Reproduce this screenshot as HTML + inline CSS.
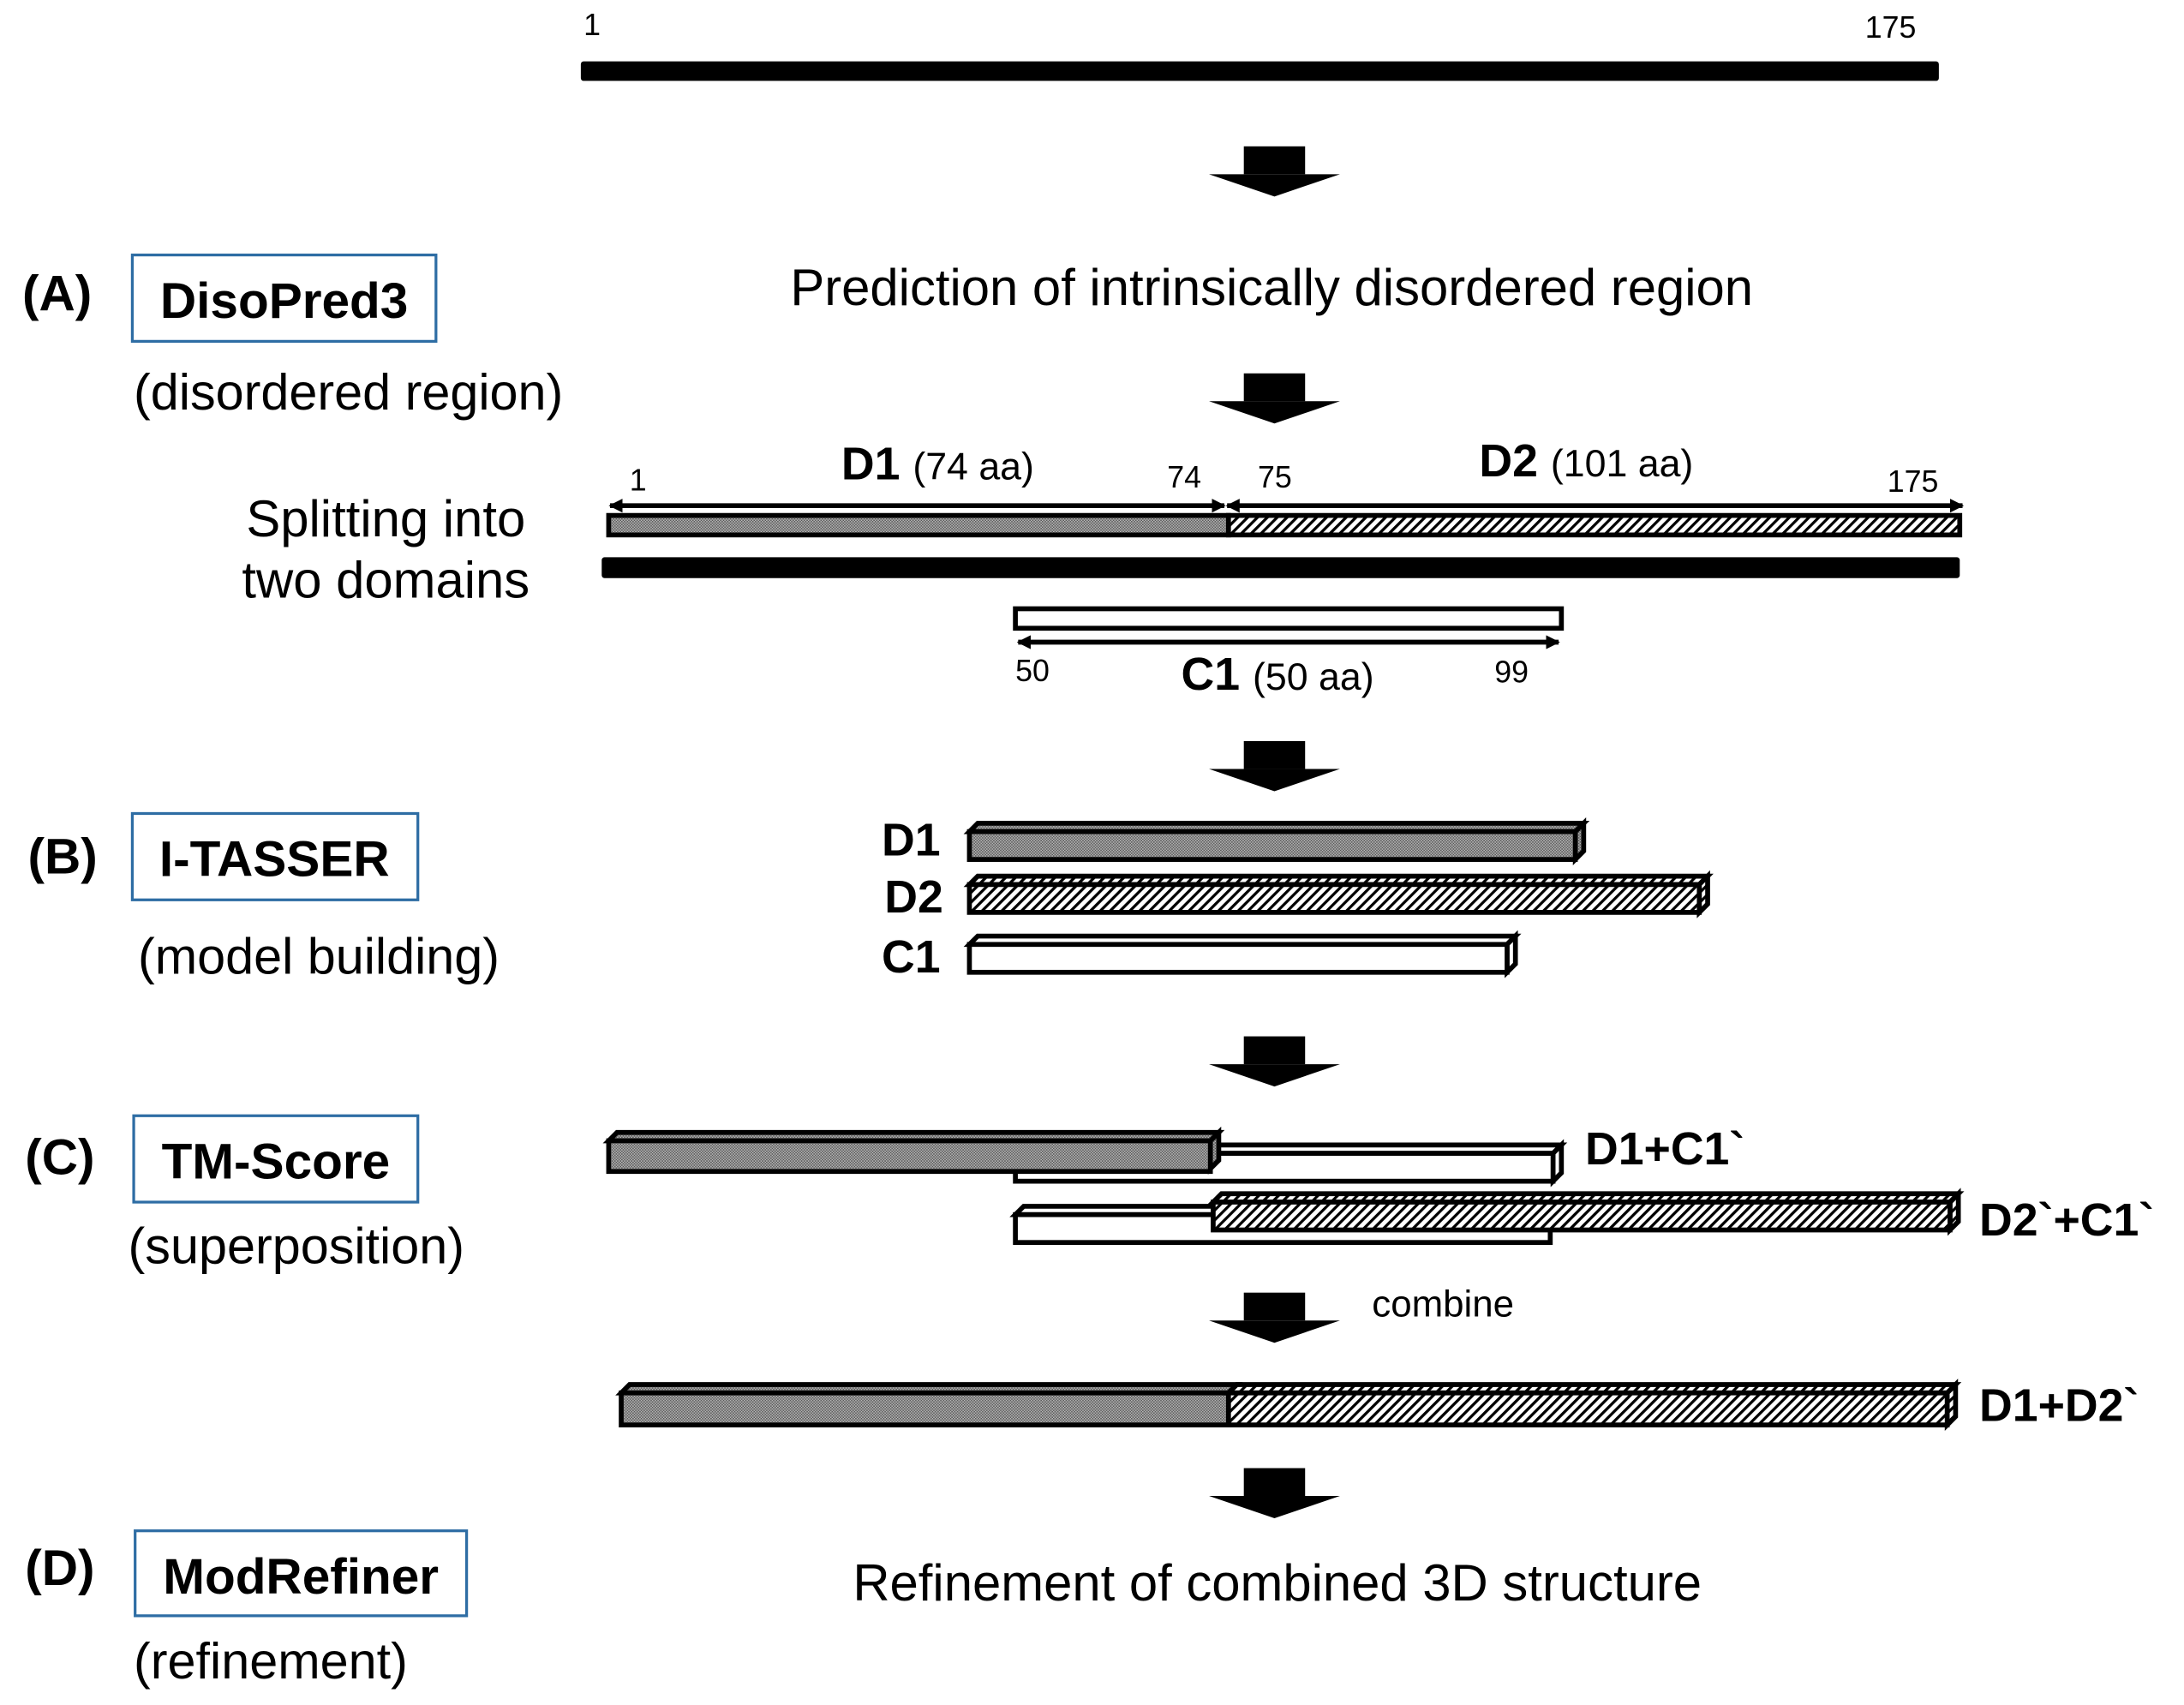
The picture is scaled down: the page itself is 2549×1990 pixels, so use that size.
<!DOCTYPE html>
<html><head><meta charset="utf-8"><style>html,body{margin:0;padding:0;background:#fff}svg{display:block}</style></head>
<body>
<svg width="2549" height="1990" viewBox="0 0 1568 1224" xmlns="http://www.w3.org/2000/svg" font-family="Liberation Sans, Arial, sans-serif">
<defs>
<pattern id="dots" width="2" height="2" patternUnits="userSpaceOnUse"><rect width="2" height="2" fill="#bbb"/><rect width="1" height="1" fill="#555"/><rect x="1" y="1" width="1" height="1" fill="#555"/></pattern>
<pattern id="hatch" width="5" height="5" patternUnits="userSpaceOnUse" patternTransform="rotate(45)"><rect width="5" height="5" fill="#fff"/><rect width="2" height="5" fill="#000"/></pattern>
<marker id="ah" markerWidth="10" markerHeight="10" refX="9" refY="5" orient="auto-start-reverse" markerUnits="userSpaceOnUse"><path d="M0,0 L10,5 L0,10z" fill="#000"/></marker>
<g id="arr"><rect x="-22" y="0" width="44" height="20" fill="#000"/><path d="M-47,20 L47,20 L0,36z" fill="#000"/></g>
</defs>
<g fill="#000">
<text x="419" y="25" font-size="22">1</text>
<text x="1339" y="27" font-size="22">175</text>
</g>
<rect x="417" y="44" width="975" height="14" fill="#000" rx="2"/>
<use href="#arr" x="915" y="105"/>
<use href="#arr" x="915" y="268"/>
<use href="#arr" x="915" y="532"/>
<use href="#arr" x="915" y="744"/>
<use href="#arr" x="915" y="928"/>
<use href="#arr" x="915" y="1054"/>

<text x="913" y="219" font-size="36.8" text-anchor="middle">Prediction of intrinsically disordered region</text>
<text x="16" y="223" font-size="36" font-weight="bold">(A)</text>
<rect x="95" y="183" width="218" height="62" fill="none" stroke="#2e6da4" stroke-width="2"/>
<text x="204" y="228" font-size="36" font-weight="bold" text-anchor="middle">DisoPred3</text>
<text x="96" y="294" font-size="36.5">(disordered region)</text>

<text x="604" y="344" font-size="33" font-weight="bold">D1 <tspan font-size="27.5" font-weight="normal">(74 aa)</tspan></text>
<text x="452" y="352" font-size="22">1</text>
<text x="838" y="350" font-size="22">74</text>
<text x="903" y="350" font-size="22">75</text>
<text x="1062" y="342" font-size="33" font-weight="bold">D2 <tspan font-size="27.5" font-weight="normal">(101 aa)</tspan></text>
<text x="1355" y="353" font-size="22">175</text>
<line x1="438" y1="363" x2="879" y2="363" stroke="#000" stroke-width="3.5" marker-start="url(#ah)" marker-end="url(#ah)"/>
<line x1="881" y1="363" x2="1409" y2="363" stroke="#000" stroke-width="3.5" marker-start="url(#ah)" marker-end="url(#ah)"/>
<rect x="437" y="370" width="445" height="14" fill="url(#dots)" stroke="#000" stroke-width="3.5"/>
<rect x="882" y="370" width="525" height="14" fill="url(#hatch)" stroke="#000" stroke-width="3.5"/>
<rect x="432" y="400" width="975" height="15" fill="#000" rx="2"/>
<rect x="729" y="437" width="392" height="14" fill="#fff" stroke="#000" stroke-width="3.5"/>
<line x1="731" y1="461" x2="1119" y2="461" stroke="#000" stroke-width="3.5" marker-start="url(#ah)" marker-end="url(#ah)"/>
<text x="729" y="489" font-size="22">50</text>
<text x="848" y="495" font-size="33" font-weight="bold">C1 <tspan font-size="27.5" font-weight="normal">(50 aa)</tspan></text>
<text x="1073" y="490" font-size="22">99</text>
<text x="277" y="385" font-size="36.8" text-anchor="middle">Splitting into</text>
<text x="277" y="429" font-size="36.8" text-anchor="middle">two domains</text>

<text x="20" y="627" font-size="36" font-weight="bold">(B)</text>
<rect x="95" y="584" width="205" height="62" fill="none" stroke="#2e6da4" stroke-width="2"/>
<text x="197" y="629" font-size="36" font-weight="bold" text-anchor="middle">I-TASSER</text>
<text x="99" y="699" font-size="36.5">(model building)</text>

<g stroke="#000" stroke-width="3.5" stroke-linejoin="miter">
<path d="M696,597 l6,-6 h435 l-6,6z" fill="url(#dots)"/>
<path d="M1131,597 l6,-6 v20 l-6,6z" fill="url(#dots)"/>
<rect x="696" y="597" width="435" height="20" fill="url(#dots)"/>
<path d="M696,635 l6,-6 h524 l-6,6z" fill="url(#hatch)"/>
<path d="M1220,635 l6,-6 v20 l-6,6z" fill="url(#hatch)"/>
<rect x="696" y="635" width="524" height="20" fill="url(#hatch)"/>
<path d="M696,678 l6,-6 h386 l-6,6z" fill="#fff"/>
<path d="M1082,678 l6,-6 v20 l-6,6z" fill="#fff"/>
<rect x="696" y="678" width="386" height="20" fill="#fff"/>
</g>
<g font-size="33" font-weight="bold">
<text x="633" y="614">D1</text>
<text x="635" y="655">D2</text>
<text x="633" y="698">C1</text>
</g>

<text x="18" y="843" font-size="36" font-weight="bold">(C)</text>
<rect x="96" y="801" width="204" height="62" fill="none" stroke="#2e6da4" stroke-width="2"/>
<text x="198" y="846" font-size="36" font-weight="bold" text-anchor="middle">TM-Score</text>
<text x="92" y="907" font-size="36.5">(superposition)</text>

<g stroke="#000" stroke-width="3.5">
<path d="M729,828 l6,-6 h386 l-6,6z" fill="#fff"/>
<path d="M1115,828 l6,-6 v20 l-6,6z" fill="#fff"/>
<rect x="729" y="828" width="386" height="20" fill="#fff"/>
<path d="M437,819 l6,-6 h432 l-6,6z" fill="url(#dots)"/>
<path d="M869,819 l6,-6 v20 l-6,6z" fill="url(#dots)"/>
<rect x="437" y="819" width="432" height="22" fill="url(#dots)"/>
<path d="M729,872 l6,-6 h386 l-6,6z" fill="#fff"/>
<rect x="729" y="872" width="384" height="20" fill="#fff"/>
<path d="M871,863 l6,-6 h529 l-6,6z" fill="url(#hatch)"/>
<path d="M1400,863 l6,-6 v20 l-6,6z" fill="url(#hatch)"/>
<rect x="871" y="863" width="529" height="20" fill="url(#hatch)"/>
</g>
<g font-size="33" font-weight="bold">
<text x="1138" y="836">D1+C1`</text>
<text x="1421" y="887">D2`+C1`</text>
<text x="1421" y="1020">D1+D2`</text>
</g>
<text x="985" y="945" font-size="27">combine</text>

<g stroke="#000" stroke-width="3.5">
<path d="M446,1000 l6,-6 h436 l-6,6z" fill="url(#dots)"/>
<rect x="446" y="1000" width="436" height="23" fill="url(#dots)"/>
<path d="M882,1000 l6,-6 h516 l-6,6z" fill="url(#hatch)"/>
<path d="M1398,1000 l6,-6 v23 l-6,6z" fill="url(#hatch)"/>
<rect x="882" y="1000" width="516" height="23" fill="url(#hatch)"/>
</g>

<text x="18" y="1138" font-size="36" font-weight="bold">(D)</text>
<rect x="97" y="1099" width="238" height="61" fill="none" stroke="#2e6da4" stroke-width="2"/>
<text x="216" y="1144" font-size="36" font-weight="bold" text-anchor="middle">ModRefiner</text>
<text x="96" y="1205" font-size="36.5">(refinement)</text>
<text x="917" y="1149" font-size="36.8" text-anchor="middle">Refinement of combined 3D structure</text>
</svg>
</body></html>
